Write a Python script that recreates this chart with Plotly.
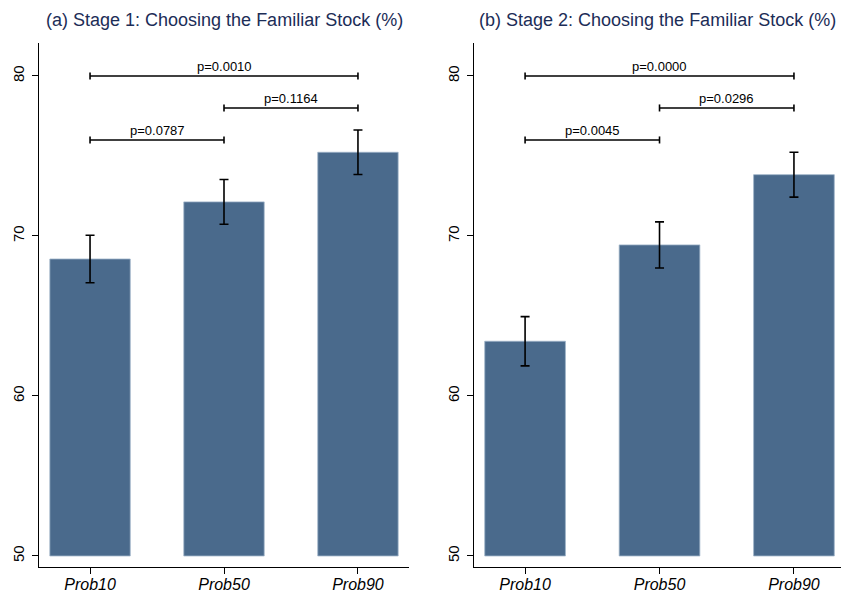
import plotly.graph_objects as go

# Treatment groups
categories = ["Prob10", "Prob50", "Prob90"]

# Share choosing the familiar stock (%) and 95% CI half-widths
stage1_mean = [68.56, 72.13, 75.23]
stage1_ci = [1.48, 1.40, 1.39]
stage2_mean = [63.42, 69.44, 73.83]
stage2_ci = [1.54, 1.44, 1.40]

# Pairwise comparisons: (from group, to group, bracket level, p-value label)
stage1_tests = [(0, 2, 80.0, "p=0.0010"), (1, 2, 78.0, "p=0.1164"), (0, 1, 76.0, "p=0.0787")]
stage2_tests = [(0, 2, 80.0, "p=0.0000"), (1, 2, 78.0, "p=0.0296"), (0, 1, 76.0, "p=0.0045")]

titles = ["(a) Stage 1: Choosing the Familiar Stock (%)",
          "(b) Stage 2: Choosing the Familiar Stock (%)"]
y_ticks = [50, 60, 70, 80]
base_level = 50

W, H = 841, 592
BAR_COLOR = "#4a6a8c"
TITLE_COLOR = "#1c2d57"
FONT = "Liberation Sans, Arial, Helvetica, sans-serif"

fig = go.Figure()

panels = [
    dict(x="x", y="y", means=stage1_mean, ci=stage1_ci, tests=stage1_tests,
         domain=[39 / W, 409 / W], xr=[-0.381, 2.381]),
    dict(x="x2", y="y2", means=stage2_mean, ci=stage2_ci, tests=stage2_tests,
         domain=[474 / W, 1.0], xr=[-0.38, 2.35]),
]

y_domain = [1 - 567 / H, 1 - 43 / H]
y_range = [49.31, 82.06]
cap = 0.22  # half-height of bracket end caps (axis units)

for i, p in enumerate(panels):
    xs = list(range(len(categories)))
    fig.add_trace(go.Bar(
        x=xs,
        y=[m - base_level for m in p["means"]],
        base=base_level,
        width=0.6,
        marker=dict(color=BAR_COLOR, line=dict(color="#9db2c8", width=0.8)),
        error_y=dict(type="data", array=p["ci"], visible=True,
                     color="black", thickness=1.6, width=4.5),
        customdata=p["means"],
        hovertemplate="%{customdata:.2f}<extra></extra>",
        xaxis=p["x"], yaxis=p["y"], showlegend=False,
    ))

    for a, b, level, label in p["tests"]:
        line = dict(color="black", width=1.6)
        fig.add_shape(type="line", xref=p["x"], yref=p["y"],
                      x0=a, x1=b, y0=level, y1=level, line=line)
        for xe in (a, b):
            fig.add_shape(type="line", xref=p["x"], yref=p["y"],
                          x0=xe, x1=xe, y0=level - cap, y1=level + cap, line=line)
        fig.add_annotation(x=(a + b) / 2, y=level, xref=p["x"], yref=p["y"],
                           text=label, showarrow=False, yanchor="bottom", yshift=0,
                           font=dict(size=13, color="black", family=FONT))

    fig.add_annotation(x=(p["domain"][0] + p["domain"][1]) / 2, y=1 - 20 / H,
                       xref="paper", yref="paper", text=titles[i], showarrow=False,
                       xanchor="center", yanchor="middle",
                       font=dict(size=18, color=TITLE_COLOR, family=FONT))

    xa = dict(domain=p["domain"], range=p["xr"], tickvals=list(range(len(categories))),
              ticktext=[f"<i>{c}</i>" for c in categories],
              showline=True, linecolor="black", linewidth=1, ticks="outside",
              ticklen=6, tickcolor="black", showgrid=False, zeroline=False,
              ticklabelstandoff=-3, automargin=False,
              tickfont=dict(size=16, color="black", family=FONT), fixedrange=True)
    ya = dict(domain=y_domain, range=y_range, tickvals=y_ticks, tickangle=-90,
              showline=True, linecolor="black", linewidth=1, ticks="outside",
              ticklen=6, tickcolor="black", showgrid=False, zeroline=False,
              ticklabelstandoff=2, automargin=False,
              tickfont=dict(size=15, color="black", family=FONT), fixedrange=True)
    if i == 0:
        fig.update_layout(xaxis=xa, yaxis=ya)
    else:
        xa["anchor"] = "y2"
        ya["anchor"] = "x2"
        fig.update_layout(xaxis2=xa, yaxis2=ya)

fig.update_layout(
    width=W, height=H,
    margin=dict(l=0, r=0, t=0, b=0),
    paper_bgcolor="white", plot_bgcolor="white",
    font=dict(family=FONT),
    bargap=0.4,
)

fig.write_html("out.html", config={"displayModeBar": False})
